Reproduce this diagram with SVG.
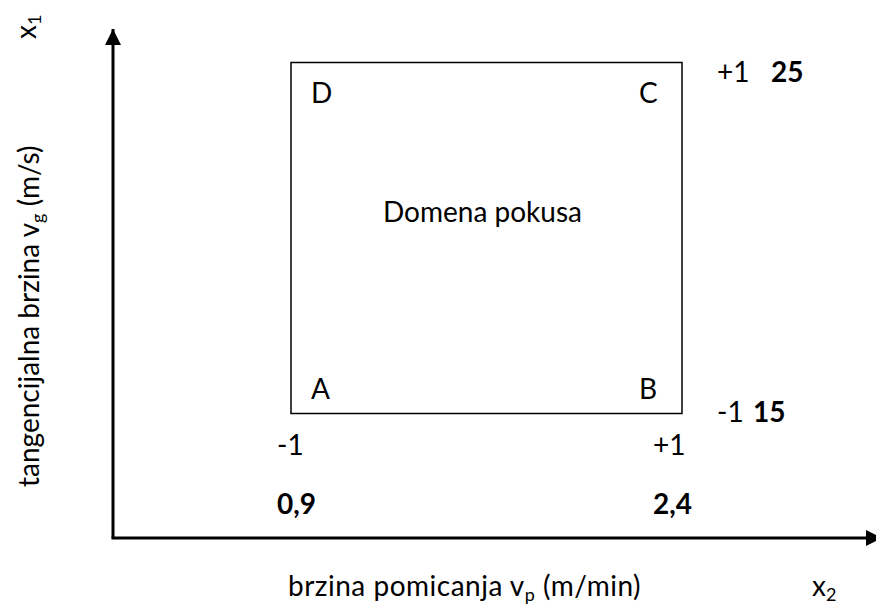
<svg xmlns="http://www.w3.org/2000/svg" width="876" height="609" viewBox="0 0 876 609">
<style>
text{font-family:Lato,"Open Sans","Liberation Sans",sans-serif;font-size:28px;fill:#000}
.b{font-weight:bold}
.s{font-size:18px}
.ax{stroke:#000;stroke-width:3;fill:none}
</style>
<defs>
<marker id="ah" markerWidth="16" markerHeight="16" refX="16" refY="8" orient="auto" markerUnits="userSpaceOnUse" viewBox="0 0 16 16">
<path d="M0,0 L16,8 L0,16 Z" fill="#000"/>
</marker>
</defs>
<rect width="876" height="609" fill="#fff"/>
<g id="connectors">
<line class="ax" x1="113" y1="538" x2="113" y2="29" marker-end="url(#ah)"/>
<line class="ax" x1="111.5" y1="538" x2="882" y2="538" marker-end="url(#ah)"/>
</g>
<g id="domain">
<rect x="291" y="62.5" width="391" height="351" fill="none" stroke="#000" stroke-width="1.5"/>
<text x="383" y="222">Domena pokusa</text>
</g>
<g id="corners">
<text x="311" y="103">D</text>
<text x="639" y="103">C</text>
<text x="311" y="399">A</text>
<text x="639" y="399">B</text>
</g>
<g id="levels">
<text x="717" y="82">+1</text>
<text x="771" y="82" class="b">25</text>
<text x="717" y="422">-1</text>
<text x="753" y="422" class="b">15</text>
<text x="277" y="455">-1</text>
<text x="653" y="455">+1</text>
<text x="277" y="514" class="b">0,9</text>
<text x="653" y="514" class="b">2,4</text>
</g>
<g id="labels">
<text x="288" y="596" letter-spacing="0.5">brzina pomicanja v<tspan class="s" dy="5">p</tspan><tspan dy="-5"> (m/min)</tspan></text>
<text x="812" y="596">x<tspan class="s" dy="5">2</tspan></text>
<text transform="translate(39,487) rotate(-90)">tangencijalna brzina v<tspan class="s" dy="5">g</tspan><tspan dy="-5"> (m/s)</tspan></text>
<text transform="translate(36,39) rotate(-90)">x<tspan class="s" dy="5">1</tspan></text>
</g>
</svg>
